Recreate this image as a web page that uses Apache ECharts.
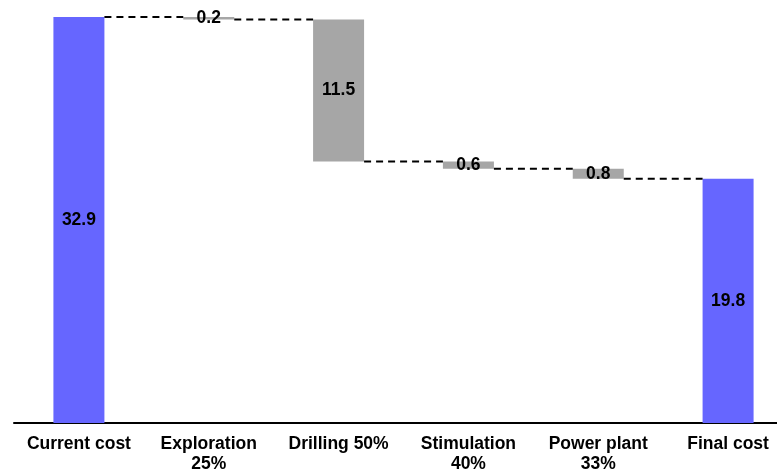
<!DOCTYPE html>
<html>
<head>
<meta charset="utf-8">
<script src="https://cdn.jsdelivr.net/npm/echarts@6/dist/echarts.min.js"></script>
<style>html,body{margin:0;padding:0;background:#fff;}#c{width:777px;height:472px;}</style>
</head>
<body>
<div id="c"></div>
<script>
var categories = ['Current cost', 'Exploration\n25%', 'Drilling 50%', 'Stimulation\n40%', 'Power plant\n33%', 'Final cost'];
var changes = [32.9, 0.2, 11.5, 0.6, 0.8, 19.8];
var isTotal = [true, false, false, false, false, true];

// compute invisible bases for the waterfall
var bases = [];
var running = 0;
for (var i = 0; i < changes.length; i++) {
  if (isTotal[i]) { bases.push(0); running = changes[i]; }
  else { running = running - changes[i]; bases.push(running); }
}
// connector levels: level after each bar (end of step)
var connectors = [];
for (var j = 0; j < changes.length - 1; j++) {
  var level = isTotal[j] ? changes[j] : bases[j];
  connectors.push([j, level]);
}

var BLUE = '#6666FF', GREY = '#A6A6A6';
var BAR_W = 51;

var chart = echarts.init(document.getElementById('c'), null, {renderer: 'canvas'});
chart.setOption({
  animation: false,
  grid: {left: 14, right: -16, top: 17, bottom: 49, containLabel: false, outerBoundsMode: 'none'},
  xAxis: {
    type: 'category',
    data: categories,
    axisLine: {show: true, lineStyle: {color: '#000', width: 2}},
    axisTick: {show: false},
    axisLabel: {
      interval: 0, margin: 11,
      fontFamily: 'Liberation Sans, Arial, sans-serif',
      fontWeight: 'bold', fontSize: 17.5, lineHeight: 20, color: '#000'
    }
  },
  yAxis: {
    type: 'value', min: 0, max: 32.9,
    show: false, splitLine: {show: false}
  },
  series: [
    {
      type: 'bar', stack: 'w', barWidth: BAR_W,
      itemStyle: {color: 'transparent'},
      data: bases, silent: true
    },
    {
      type: 'bar', stack: 'w', barWidth: BAR_W,
      data: changes.map(function (v, k) {
        return {value: v, itemStyle: {color: isTotal[k] ? BLUE : GREY}};
      }),
      label: {
        show: true, position: 'inside',
        fontFamily: 'Liberation Sans, Arial, sans-serif',
        fontWeight: 'bold', fontSize: 17.5, color: '#000',
        formatter: function (p) { return p.value.toFixed(1); }
      }
    },
    {
      type: 'custom',
      data: connectors,
      z: 5,
      renderItem: function (params, api) {
        var idx = api.value(0), lvl = api.value(1);
        var p1 = api.coord([idx, lvl]);
        var p2 = api.coord([idx + 1, lvl]);
        return {
          type: 'line',
          shape: {x1: p1[0] + BAR_W / 2, y1: p1[1], x2: p2[0] - BAR_W / 2, y2: p1[1]},
          style: {stroke: '#000', lineWidth: 2, lineDash: [7, 5]}
        };
      }
    }
  ]
});
</script>
</body>
</html>
